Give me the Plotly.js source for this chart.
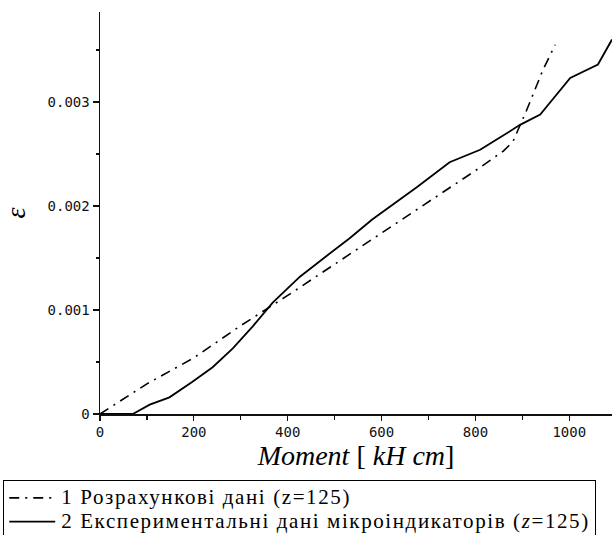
<!DOCTYPE html>
<html>
<head>
<meta charset="utf-8">
<script src="https://cdn.plot.ly/plotly-3.0.1.min.js"></script>
<style>
html,body{margin:0;padding:0;background:#fff;}
#chart{width:612px;height:535px;}
.legendtext{letter-spacing:1.6px; font-family:"Liberation Serif","DejaVu Serif",serif !important;}
.xtitle,.ytitle{font-family:"Liberation Serif","DejaVu Serif",serif !important;}
</style>
</head>
<body>
<div id="chart"></div>
<script>
// Series 1: calculated data (dash-dot)
var calcMoment = [0, 100, 200, 300, 400, 500, 600, 700, 800, 860, 880, 909, 944, 970];
var calcStrain = [0, 0.00029, 0.00054, 0.00085, 0.00114, 0.00144, 0.00174, 0.00204, 0.00234, 0.00253, 0.00262, 0.00292, 0.00331, 0.00355];
// Series 2: experimental data of micro-indicators (solid)
var expMoment = [0, 70, 106, 148, 197, 240, 283, 325, 368, 426, 480, 532, 580, 639, 675, 745, 810, 853, 895, 938, 1002, 1061, 1091];
var expStrain = [0, 0, 0.00009, 0.00016, 0.00031, 0.00045, 0.00063, 0.00084, 0.00107, 0.00132, 0.00151, 0.00169, 0.00187, 0.00206, 0.00218, 0.00242, 0.00254, 0.00266, 0.00278, 0.00288, 0.00323, 0.00336, 0.0036];
var seriesNames = ["1 Розрахункові дані (z=125)", "2 Експериментальні дані мікроіндикаторів (<i>z</i>=125)"];
var xTitle = "<i>Moment</i> [ <i>kH cm</i>]";
var yTitle = "<i>ε</i>";

var serif = '"Liberation Serif", "DejaVu Serif", serif';
function legendLabel(s) { return '<span style="font-size:21px">' + s + '</span>'; }

var traces = [
  {x: calcMoment, y: calcStrain, mode: 'lines', name: legendLabel(seriesNames[0]),
   line: {color: '#000', width: 1.6, dash: '10px,6px,2px,6px'}},
  {x: expMoment, y: expStrain, mode: 'lines', name: legendLabel(seriesNames[1]),
   line: {color: '#000', width: 1.8}}
];

var tickFont = {family: 'DejaVu Sans Mono', size: 14, color: '#111'};
var layout = {
  width: 612, height: 535,
  margin: {l: 100, r: 0, t: 12, b: 121, autoexpand: false},
  paper_bgcolor: '#fff', plot_bgcolor: '#fff',
  showlegend: true,
  xaxis: {
    range: [0, 1091], showgrid: false, zeroline: false,
    showline: true, linecolor: '#111', linewidth: 1.5,
    ticks: 'outside', ticklen: 5, tickwidth: 1.2, tickcolor: '#111',
    dtick: 200, tick0: 0, tickfont: tickFont,
    minor: {ticks: 'outside', ticklen: 4, dtick: 100, tickcolor: '#111', tickwidth: 1.2, showgrid: false},
    title: {text: xTitle, font: {family: serif, size: 28, color: '#000'}, standoff: 6},
    automargin: false
  },
  yaxis: {
    range: [0, 0.003865], showgrid: false, zeroline: false,
    showline: true, linecolor: '#111', linewidth: 1.5,
    ticks: 'outside', ticklen: 6, tickwidth: 1.2, tickcolor: '#111',
    dtick: 0.001, tick0: 0, tickfont: tickFont,
    minor: {ticks: 'outside', ticklen: 3, dtick: 0.0005, tickcolor: '#111', tickwidth: 1.2, showgrid: false},
    title: {text: yTitle, font: {family: serif, size: 28, color: '#000'}, standoff: 18},
    automargin: false
  },
  legend: {
    x: -0.189, y: -0.164, xanchor: 'left', yanchor: 'top',
    bgcolor: '#fff', bordercolor: '#000', borderwidth: 1,
    font: {family: serif, size: 16, color: '#000'},
    itemwidth: 47, tracegroupgap: 0
  }
};
Plotly.newPlot('chart', traces, layout, {displayModeBar: false, staticPlot: true}).then(function (gd) {
  gd.querySelectorAll('.legendlines path').forEach(function (p) { p.setAttribute('d', 'M5,0h46'); });
});
</script>
</body>
</html>
